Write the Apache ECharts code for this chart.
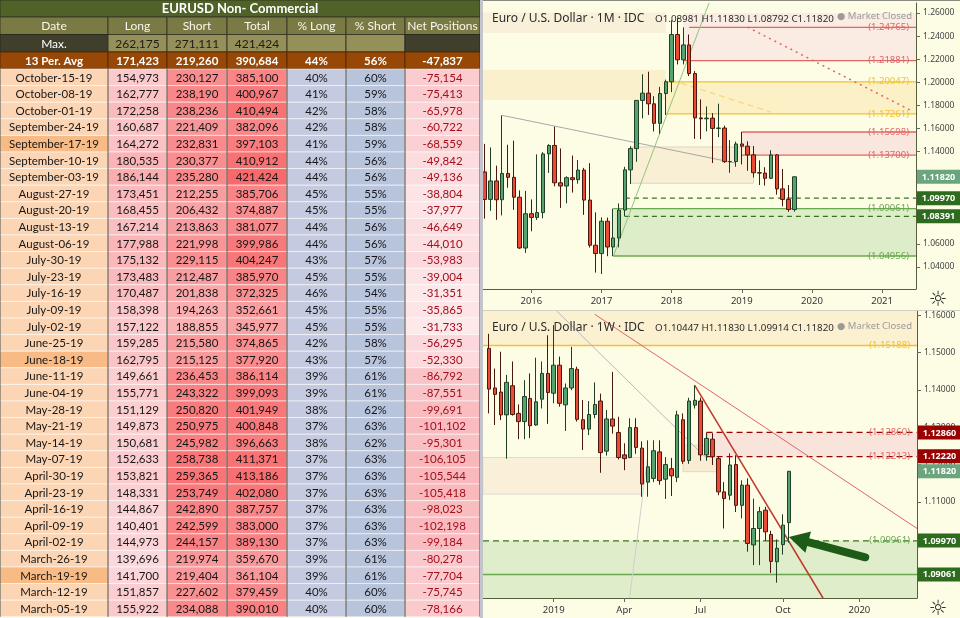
<!DOCTYPE html>
<html>
<head>
<meta charset="utf-8">
<script src="https://cdn.jsdelivr.net/npm/echarts@6.0.0/dist/echarts.min.js"></script>
<style>
html,body{margin:0;padding:0;background:#fdfde6;}
#chart{width:960px;height:618px;}
</style>
</head>
<body>
<div id="chart"></div>
<script>
// ================= TABLE DATA =================
const tableTitle = 'EURUSD Non- Commercial';
const tableHeaders = ['Date','Long','Short','Total','% Long','% Short','Net Positions'];
const maxLabel = 'Max.';
const maxValues = [262175, 271111, 421424];
const avgLabel = '13 Per. Avg';
const avgValues = [171423, 219260, 390684];
const avgPct = [44, 56];
const avgNet = -47837;
const reportDates = ['October-15-19','October-08-19','October-01-19','September-24-19','September-17-19','September-10-19','September-03-19','August-27-19','August-20-19','August-13-19','August-06-19','July-30-19','July-23-19','July-16-19','July-09-19','July-02-19','June-25-19','June-18-19','June-11-19','June-04-19','May-28-19','May-21-19','May-14-19','May-07-19','April-30-19','April-23-19','April-16-19','April-09-19','April-02-19','March-26-19','March-19-19','March-12-19','March-05-19'];
const longPos = [154973,162777,172258,160687,164272,180535,186144,173451,168455,167214,177988,175132,173483,170487,158398,157122,159285,162795,149661,155771,151129,149873,150681,152633,153821,148331,144867,140401,144973,139696,141700,151857,155922];
const shortPos = [230127,238190,238236,221409,232831,230377,235280,212255,206432,213863,221998,229115,212487,201838,194263,188855,215580,215125,236453,243322,250820,250975,245982,258738,259365,253749,242890,242599,244157,219974,219404,227602,234088];
const totalPos = [385100,400967,410494,382096,397103,410912,421424,385706,374887,381077,399986,404247,385970,372325,352661,345977,374865,377920,386114,399093,401949,400848,396663,411371,413186,402080,387757,383000,389130,359670,361104,379459,390010];
const pctLong = [40,41,42,42,41,44,44,45,45,44,44,43,45,46,45,45,42,43,39,39,38,37,38,37,37,37,37,37,37,39,39,40,40];
const pctShort = [60,59,58,58,59,56,56,55,55,56,56,57,55,54,55,55,58,57,61,61,62,63,62,63,63,63,63,63,63,61,61,60,60];
const netPos = [-75154,-75413,-65978,-60722,-68559,-49842,-49136,-38804,-37977,-46649,-44010,-53983,-39004,-31351,-35865,-31733,-56295,-52330,-86792,-87551,-99691,-101102,-95301,-106105,-105544,-105418,-98023,-102198,-99184,-80278,-77704,-75745,-78166];
const highlightedDates = ['September-17-19','June-18-19','March-19-19'];

// ================= MONTHLY CANDLES (O,H,L,C) =================
const monthlyDates = ['2015-05','2015-06','2015-07','2015-08','2015-09','2015-10','2015-11','2015-12',
'2016-01','2016-02','2016-03','2016-04','2016-05','2016-06','2016-07','2016-08','2016-09','2016-10','2016-11','2016-12',
'2017-01','2017-02','2017-03','2017-04','2017-05','2017-06','2017-07','2017-08','2017-09','2017-10','2017-11','2017-12',
'2018-01','2018-02','2018-03','2018-04','2018-05','2018-06','2018-07','2018-08','2018-09','2018-10','2018-11','2018-12',
'2019-01','2019-02','2019-03','2019-04','2019-05','2019-06','2019-07','2019-08','2019-09','2019-10'];
const monthlyOHLC = [
[1.1224,1.1467,1.0819,1.0986],[1.0986,1.1436,1.0887,1.1146],[1.1146,1.1278,1.0809,1.0983],[1.0983,1.1714,1.0847,1.1211],
[1.1211,1.1459,1.1087,1.1177],[1.1177,1.1495,1.0896,1.1005],[1.1005,1.1064,1.0557,1.0565],[1.0565,1.1060,1.0523,1.0862],
[1.0862,1.0986,1.0710,1.0830],[1.0830,1.1376,1.0808,1.0872],[1.0872,1.1396,1.0822,1.1380],[1.1380,1.1464,1.1215,1.1453],
[1.1453,1.1616,1.1099,1.1130],[1.1130,1.1427,1.0912,1.1102],[1.1102,1.1186,1.0952,1.1174],[1.1174,1.1366,1.1045,1.1157],
[1.1157,1.1327,1.1122,1.1240],[1.1240,1.1259,1.0852,1.0980],[1.0980,1.1300,1.0569,1.0589],[1.0589,1.0874,1.0352,1.0517],
[1.0517,1.0830,1.0340,1.0797],[1.0797,1.0829,1.0494,1.0574],[1.0574,1.0906,1.0495,1.0652],[1.0652,1.0951,1.0570,1.0894],
[1.0894,1.1268,1.0839,1.1242],[1.1242,1.1446,1.1119,1.1426],[1.1426,1.1847,1.1312,1.1843],[1.1843,1.2070,1.1688,1.1906],
[1.1906,1.2092,1.1717,1.1814],[1.1814,1.1880,1.1574,1.1645],[1.1645,1.1961,1.1554,1.1903],[1.1903,1.2023,1.1717,1.2005],
[1.2005,1.2537,1.1915,1.2414],[1.2414,1.2556,1.2155,1.2195],[1.2195,1.2476,1.2155,1.2324],[1.2324,1.2414,1.2054,1.2076],
[1.2076,1.2097,1.1510,1.1692],[1.1692,1.1852,1.1508,1.1684],[1.1684,1.1791,1.1575,1.1690],[1.1690,1.1733,1.1301,1.1601],
[1.1601,1.1815,1.1526,1.1604],[1.1604,1.1625,1.1302,1.1313],[1.1313,1.1500,1.1216,1.1314],[1.1314,1.1486,1.1269,1.1466],
[1.1466,1.1570,1.1289,1.1447],[1.1447,1.1489,1.1234,1.1372],[1.1372,1.1448,1.1176,1.1217],[1.1217,1.1324,1.1111,1.1214],
[1.1214,1.1265,1.1106,1.1169],[1.1169,1.1412,1.1162,1.1371],[1.1371,1.1378,1.1027,1.1077],[1.1077,1.1250,1.0926,1.0986],
[1.0986,1.1110,1.0879,1.0898],[1.08981,1.11830,1.08792,1.11820]];
const monthlyTickDates = ['2016-01','2017-01','2018-01','2019-01','2020-01','2021-01'];
const monthlyTickLabels = ['2016','2017','2018','2019','2020','2021'];
const monthlyPriceTicks = [1.04,1.06,1.08,1.10,1.12,1.14,1.16,1.18,1.20,1.22,1.24,1.26];

// ================= WEEKLY CANDLES (O,H,L,C) =================
const weeklyDates = ['2018-10-22','2018-10-29','2018-11-05','2018-11-12','2018-11-19','2018-11-26','2018-12-03','2018-12-10','2018-12-17','2018-12-24','2018-12-31',
'2019-01-07','2019-01-14','2019-01-21','2019-01-28','2019-02-04','2019-02-11','2019-02-18','2019-02-25','2019-03-04','2019-03-11','2019-03-18','2019-03-25',
'2019-04-01','2019-04-08','2019-04-15','2019-04-22','2019-04-29','2019-05-06','2019-05-13','2019-05-20','2019-05-27','2019-06-03','2019-06-10','2019-06-17','2019-06-24',
'2019-07-01','2019-07-08','2019-07-15','2019-07-22','2019-07-29','2019-08-05','2019-08-12','2019-08-19','2019-08-26','2019-09-02','2019-09-09','2019-09-16','2019-09-23','2019-09-30',
'2019-10-07','2019-10-14'];
const weeklyOHLC = [
[1.1511,1.1550,1.1337,1.1402],[1.1405,1.1457,1.1306,1.1388],[1.1394,1.1502,1.1319,1.1333],[1.1333,1.1440,1.1216,1.1420],
[1.1411,1.1476,1.1331,1.1334],[1.1337,1.1361,1.1268,1.1315],[1.1315,1.1426,1.1268,1.1382],[1.1377,1.1444,1.1271,1.1304],
[1.1306,1.1486,1.1304,1.1368],[1.1375,1.1476,1.1350,1.1444],[1.1444,1.1546,1.1309,1.1393],[1.1391,1.1573,1.1364,1.1466],
[1.1466,1.1489,1.1355,1.1364],[1.1360,1.1417,1.1290,1.1405],[1.1405,1.1515,1.1399,1.1457],[1.1455,1.1462,1.1315,1.1321],
[1.1320,1.1373,1.1239,1.1295],[1.1295,1.1370,1.1279,1.1334],[1.1334,1.1420,1.1324,1.1361],[1.1370,1.1390,1.1178,1.1232],
[1.1236,1.1346,1.1224,1.1322],[1.1322,1.1448,1.1283,1.1303],[1.1286,1.1328,1.1214,1.1219],[1.1226,1.1257,1.1185,1.1216],
[1.1219,1.1324,1.1217,1.1299],[1.1299,1.1324,1.1229,1.1246],[1.1244,1.1262,1.1114,1.1148],[1.1153,1.1265,1.1114,1.1194],
[1.1163,1.1265,1.1153,1.1237],[1.1234,1.1265,1.1146,1.1157],[1.1161,1.1220,1.1108,1.1200],[1.1189,1.1218,1.1116,1.1170],
[1.1166,1.1344,1.1153,1.1333],[1.1320,1.1337,1.1202,1.1209],[1.1211,1.1379,1.1202,1.1370],[1.1359,1.1412,1.1350,1.1372],
[1.1370,1.1379,1.1210,1.1226],[1.1226,1.1284,1.1210,1.1270],[1.1268,1.1284,1.1199,1.1221],[1.1216,1.1221,1.1118,1.1127],
[1.1127,1.1153,1.1029,1.1109],[1.1118,1.1230,1.1105,1.1199],[1.1200,1.1225,1.1073,1.1091],[1.1091,1.1158,1.1056,1.1145],
[1.1145,1.1163,1.0967,1.0989],[1.0985,1.1109,1.0931,1.1029],[1.1029,1.1087,1.0931,1.1074],[1.1078,1.1087,1.0996,1.1020],
[1.1013,1.1023,1.0910,1.0941],[1.0940,1.1000,1.0884,1.0976],[1.0986,1.1067,1.0959,1.1038],[1.10447,1.11830,1.09914,1.11820]];
const weeklyTickDates = ['2019-01-07','2019-04-01','2019-07-01','2019-10-07','2020-01-06'];
const weeklyTickLabels = ['2019','Apr','Jul','Oct','2020'];
const weeklyPriceTicks = [1.09,1.10,1.11,1.12,1.13,1.14,1.15,1.16];

// ================= DRAWN ANNOTATIONS (dates / price levels) =================
const monthlyZones = [[null,'2017-12',1.2605,1.2427],[null,'2017-12',1.2107,1.1847],['2018-03',null,1.2600,1.21881],
  ['2017-12',null,1.20047,1.17261],['2019-01',null,1.15698,1.13700],['2017-06','2019-03',1.1440,1.1126],['2017-03',null,1.09061,1.04956]];
const monthlyFibLevels = [1.24765,1.21881,1.20047,1.17261,1.15698,1.13700,1.09061,1.04956];
const monthlyFibFrom = ['2018-04','2018-03','2017-12','2017-12','2019-01','2019-01','2017-03','2017-03'];
const monthlyDashedLevels = [1.09970,1.08391];
const monthlyDashedFrom = '2017-05';
const monthlyTrends = [['2015-08',1.1714,'2018-12',1.1300],['2017-03',1.0490,'2018-08',1.2767],['2019-02',1.2477,'2021-06',1.1755],['2018-01',1.2020,'2019-06',1.1741]];
const monthlyTags = [1.09970,1.08391];

const weeklyZones = [[null,null,1.1611,1.15188],[null,'2019-04-22',1.1219,1.1121],['2019-06-10','2019-07-22',1.1252,1.1181],
  ['2019-07-08',null,1.12860,1.12213],[null,null,1.09961,1.0843]];
const weeklyFibLevels = [1.15188,1.12860,1.12213,1.09961];
const weeklyFibFrom = [null,'2019-07-08','2019-07-08',null];
const weeklySupport = 1.09061;
const weeklyTrends = [['2019-02-25',1.1602,'2020-03-16',1.1027],['2019-06-24',1.1412,'2019-12-02',1.0812],['2019-01-07',1.1619,'2019-07-08',1.1217],['2019-04-01',1.0733,'2019-04-29',1.1223],['2019-07-08',1.12860,'2019-07-08',1.12213]];
const weeklyTags = [1.12860,1.12220,1.09970,1.09061];
const weeklyArrow = ['2020-01-13',1.0952,'2019-10-14',1.1006];

// ================= HELPERS =================
const tableFont = "Lato, 'Noto Sans', sans-serif";
const chartFont = "'Noto Sans', 'DejaVu Sans', sans-serif";
const fmt = n => n.toLocaleString('en-US');
function hex2rgb(h){ return [1,3,5].map(i=>parseInt(h.substr(i,2),16)); }
function mix(a,b,t){ t=Math.max(0,Math.min(1,t)); const A=hex2rgb(a),B=hex2rgb(b); return 'rgb('+A.map((v,i)=>Math.round(v+(B[i]-v)*t)).join(',')+')'; }
function monthIdx(s){ const p=s.split('-').map(Number); return (p[0]-2016)*12+(p[1]-1); }
function weekIdx(s){ const p=s.split('-').map(Number); return (Date.UTC(p[0],p[1]-1,p[2])-Date.UTC(2019,0,7))/(7*86400000); }

// layout
const colEdges = [0,108,167,227,287,346,405,480];
const rowEdges = [0,17,34.5,52,69];
for (let i=1;i<=reportDates.length;i++) rowEdges.push(69+i*16.6);
const MX=[-8.27,65.8], MY=[1.021,1.2687];
const WX=[-12.03,61.8], WY=[1.0843,1.1611];

// ================= TABLE CELLS =================
const cells = [];
function addCell(c0,c1,r,text,bg,fg,opt){ opt=opt||{}; cells.push({c0,c1,r,text,bg,fg,bold:!!opt.bold,size:opt.size||11.5,stroke:opt.stroke||'rgba(255,255,255,0.55)'}); }
addCell(0,7,0,tableTitle,'#4f6228','#ffffff',{bold:true,size:13,stroke:'#2e3a18'});
tableHeaders.forEach((h,i)=>addCell(i,i+1,1,h,'#7a7a44','#f7f7ef',{size:12,stroke:'#3a3a28'}));
addCell(0,1,2,maxLabel,'#3f3f2b','#ffffff',{size:12,stroke:'#2a2a1e'});
maxValues.forEach((v,i)=>addCell(i+1,i+2,2,fmt(v),'#958f5a','#1d1d12',{size:12,stroke:'#3a3a28'}));
addCell(4,5,2,'','#958f5a','#000',{stroke:'#3a3a28'});
addCell(5,6,2,'','#958f5a','#000',{stroke:'#3a3a28'});
addCell(6,7,2,'','#3f3f2b','#000',{stroke:'#2a2a1e'});
[avgLabel].concat(avgValues.map(fmt),[avgPct[0]+'%',avgPct[1]+'%',fmt(avgNet)]).forEach((t,i)=>addCell(i,i+1,3,t,'#974806','#ffffff',{bold:true,size:11.5,stroke:'#5a2a02'}));
reportDates.forEach((d,k)=>{
  const r=4+k;
  addCell(0,1,r,d,highlightedDates.indexOf(d)>=0?'#f8bb86':'#fcd5b4','#161616');
  addCell(1,2,r,fmt(longPos[k]),mix('#fcfcff','#f8696b',(longPos[k]-100000)/(262175-100000)),'#161616');
  addCell(2,3,r,fmt(shortPos[k]),mix('#fcfcff','#f8696b',(shortPos[k]-107000)/(271111-107000)),'#161616');
  addCell(3,4,r,fmt(totalPos[k]),mix('#fcfcff','#f8696b',(totalPos[k]-230000)/(421424-230000)),'#161616');
  addCell(4,5,r,pctLong[k]+'%','#c4cadf','#161616');
  addCell(5,6,r,pctShort[k]+'%','#b8c3dc','#161616');
  addCell(6,7,r,fmt(netPos[k]),mix('#fde9eb','#f8b5b9',(-netPos[k]-30000)/80000),'#a30f1c');
});

// ================= OVERLAY ITEMS =================
function clipSeg(x0,y0,x1,y1,xr,yr){
  let t0=0,t1=1; const dx=x1-x0, dy=y1-y0;
  const p=[-dx,dx,-dy,dy], q=[x0-xr[0],xr[1]-x0,y0-yr[0],yr[1]-y0];
  for(let i=0;i<4;i++){
    if(p[i]===0){ if(q[i]<0) return null; }
    else { const r=q[i]/p[i]; if(p[i]<0){ if(r>t1) return null; if(r>t0) t0=r; } else { if(r<t0) return null; if(r<t1) t1=r; } }
  }
  return [x0+t0*dx,y0+t0*dy,x0+t1*dx,y0+t1*dy];
}
function zoneItem(xr,yr,x0,x1,y0,y1,fill,stroke){ return {kind:'zone',xr,yr,x0:x0==null?xr[0]:x0,x1:x1==null?xr[1]:x1,y0,y1,fill,stroke}; }
function segItem(xr,yr,x0,y0,x1,y1,stroke,width,dash){ return {kind:'line',xr,yr,x0,y0,x1,y1,stroke,width,dash}; }
function hItem(xr,yr,x0,y,stroke,width,dash){ return segItem(xr,yr,x0==null?xr[0]:x0,y,xr[1],y,stroke,width,dash); }

const RED='#e06666', GOLD='#f1c232', GREEN='#6aa84f', DKGREEN='#38761d', DKRED='#990000';

// monthly
const mZoneFills = ['#f8f0d8','#fbf0cc','#faece2','#fcf0c6','#f9e7de','#f8efd4','#deedc9'];
const mZoneStroke = [null,null,null,null,null,'#ddd6c0',null];
const mFibColors = [RED,RED,GOLD,GOLD,RED,RED,GREEN,GREEN];
const mTrendStyle = [['#a8a8a8',1,null],['#93c47d',1,null],[RED,1.5,[2,4]],['#f6d77a',1.2,[6,4]]];
const mZonesItems = monthlyZones.map((z,i)=>zoneItem(MX,MY,z[0]?monthIdx(z[0]):null,z[1]?monthIdx(z[1]):null,z[2],z[3],mZoneFills[i],mZoneStroke[i]));
const mLineItems = [];
monthlyFibLevels.forEach((v,i)=>mLineItems.push(hItem(MX,MY,monthIdx(monthlyFibFrom[i]),v,mFibColors[i],1.3,null)));
monthlyDashedLevels.forEach(v=>mLineItems.push(hItem(MX,MY,monthIdx(monthlyDashedFrom),v,DKGREEN,1.3,[5,4])));
monthlyTrends.forEach((t,i)=>mLineItems.push(segItem(MX,MY,monthIdx(t[0]),t[1],monthIdx(t[2]),t[3],mTrendStyle[i][0],mTrendStyle[i][1],mTrendStyle[i][2])));
const mTopItems = [];
monthlyFibLevels.forEach((v,i)=>mTopItems.push({kind:'label',xr:MX,yr:MY,y:v,text:'('+v.toFixed(5)+')',color:mFibColors[i]}));
const lastM = monthlyOHLC[monthlyOHLC.length-1];
mTopItems.push({kind:'tag',xr:MX,yr:MY,y:lastM[3],text:lastM[3].toFixed(5),bg:'#6aa57e'});
monthlyTags.forEach(v=>mTopItems.push({kind:'tag',xr:MX,yr:MY,y:v,text:v.toFixed(5),bg:'#2f6b1e'}));

// weekly
const wZoneFills = ['#fbf0d0','#faf0da','#f8ecd2','#f9e4dc','#dfedca'];
const wZoneStroke = [null,'#dcdcd4','#e2d8c0',null,null];
const wFibColors = [GOLD,DKRED,DKRED,DKGREEN];
const wFibStyle = [[1.5,null],[1.3,[6,4]],[1.3,[6,4]],[1.3,[6,4]]];
const wFibTextColors = [GOLD,RED,RED,GREEN];
const wTrendStyle = [[RED,1,null],['#c0392b',1.5,null],['#b8b8b8',1,null],['#cfcfcf',1,null],[DKRED,1.2,null]];
const wZonesItems = weeklyZones.map((z,i)=>zoneItem(WX,WY,z[0]?weekIdx(z[0]):null,z[1]?weekIdx(z[1]):null,z[2],z[3],wZoneFills[i],wZoneStroke[i]));
const wLineItems = [];
weeklyFibLevels.forEach((v,i)=>wLineItems.push(hItem(WX,WY,weeklyFibFrom[i]?weekIdx(weeklyFibFrom[i]):null,v,wFibColors[i],wFibStyle[i][0],wFibStyle[i][1])));
wLineItems.push(hItem(WX,WY,null,weeklySupport,GREEN,1.5,null));
weeklyTrends.forEach((t,i)=>wLineItems.push(segItem(WX,WY,weekIdx(t[0]),t[1],weekIdx(t[2]),t[3],wTrendStyle[i][0],wTrendStyle[i][1],wTrendStyle[i][2])));
const wTopItems = [];
weeklyFibLevels.forEach((v,i)=>wTopItems.push({kind:'label',xr:WX,yr:WY,y:v,text:'('+v.toFixed(5)+')',color:wFibTextColors[i]}));
const lastW = weeklyOHLC[weeklyOHLC.length-1];
const wTagBg = ['#990000','#990000','#2f6b1e','#2f6b1e'];
weeklyTags.forEach((v,i)=>wTopItems.push({kind:'tag',xr:WX,yr:WY,y:v,text:v.toFixed(5),bg:wTagBg[i]}));
wTopItems.push({kind:'tag',xr:WX,yr:WY,y:lastW[3],text:lastW[3].toFixed(5),bg:'#6aa57e'});
wTopItems.push({kind:'arrow',xr:WX,yr:WY,x0:weekIdx(weeklyArrow[0]),y0:weeklyArrow[1],x1:weekIdx(weeklyArrow[2]),y1:weeklyArrow[3]});

function drawOverlay(it, api){
  const P=(x,y)=>api.coord([x,y]);
  if(it.kind==='zone'){
    const x0=Math.max(it.x0,it.xr[0]), x1=Math.min(it.x1,it.xr[1]);
    const y0=Math.min(it.y0,it.yr[1]), y1=Math.max(it.y1,it.yr[0]);
    const a=P(x0,y0), b=P(x1,y1);
    return {type:'rect',shape:{x:a[0],y:a[1],width:b[0]-a[0],height:b[1]-a[1]},style:{fill:it.fill,stroke:it.stroke||'none',lineWidth:1}};
  }
  if(it.kind==='line'){
    const c=clipSeg(it.x0,it.y0,it.x1,it.y1,it.xr,it.yr);
    if(!c) return {type:'group',children:[]};
    const a=P(c[0],c[1]), b=P(c[2],c[3]);
    return {type:'line',shape:{x1:a[0],y1:a[1],x2:b[0],y2:b[1]},style:{stroke:it.stroke,lineWidth:it.width,lineDash:it.dash||null}};
  }
  if(it.kind==='label'){
    const a=P(it.xr[1],it.y);
    return {type:'text',x:a[0]-7,y:a[1],style:{text:it.text,align:'right',verticalAlign:'middle',fill:it.color,fontSize:9.5,fontFamily:chartFont}};
  }
  if(it.kind==='tag'){
    const a=P(it.xr[1],it.y);
    return {type:'group',children:[
      {type:'rect',shape:{x:a[0]+1,y:a[1]-7,width:43,height:14},style:{fill:it.bg}},
      {type:'text',x:a[0]+22.5,y:a[1]+0.5,style:{text:it.text,align:'center',verticalAlign:'middle',fill:'#ffffff',fontSize:9,fontWeight:'bold',fontFamily:chartFont}}
    ]};
  }
  if(it.kind==='arrow'){
    const a=P(it.x0,it.y0), b=P(it.x1,it.y1);
    const dx=b[0]-a[0], dy=b[1]-a[1], L=Math.hypot(dx,dy), ux=dx/L, uy=dy/L;
    const bx=b[0]-ux*20, by=b[1]-uy*20, px=-uy, py=ux;
    return {type:'group',children:[
      {type:'line',shape:{x1:a[0],y1:a[1],x2:bx,y2:by},style:{stroke:'#1e5b16',lineWidth:8,lineCap:'round'}},
      {type:'polygon',shape:{points:[[b[0],b[1]],[bx+px*11,by+py*11],[bx-px*11,by-py*11]]},style:{fill:'#1e5b16'}}
    ]};
  }
  return {type:'group',children:[]};
}
function overlay(items, ai, z){
  return {type:'custom',xAxisIndex:ai,yAxisIndex:ai,z:z,silent:true,clip:false,
    data:items.map(it=>[it.xr[0],it.yr[0]]),
    renderItem:(params,api)=>drawOverlay(items[params.dataIndex],api)};
}

const monthlyTickX = monthlyTickDates.map(monthIdx);
const weeklyTickX = weeklyTickDates.map(weekIdx);
function tickFmt(xs, labels){ return v=>{ const i=xs.findIndex(t=>Math.abs(t-v)<1e-6); return i>=0?labels[i]:''; }; }

const axisColor = '#55603a';
function xAxisFor(gi, range, ticks, labels){
  return {gridIndex:gi,type:'value',min:range[0],max:range[1],
    axisLine:{show:true,onZero:false,lineStyle:{color:axisColor,width:1}},
    axisTick:{show:true,customValues:ticks,length:4,lineStyle:{color:'#666'}},
    axisLabel:{customValues:ticks,formatter:tickFmt(ticks,labels),color:'#333',fontSize:9.5,margin:7,fontFamily:chartFont},
    splitLine:{show:false}};
}
function yAxisFor(gi, range, ticks){
  return {gridIndex:gi,type:'value',position:'right',min:range[0],max:range[1],
    axisLine:{show:true,onZero:false,lineStyle:{color:axisColor,width:1}},
    axisTick:{show:true,customValues:ticks,length:4,lineStyle:{color:'#666'}},
    axisLabel:{customValues:ticks,formatter:v=>v.toFixed(5),color:'#444',fontSize:8.5,margin:7,fontFamily:chartFont},
    splitLine:{show:false}};
}
const candleStyle = {color:'#55a46f',color0:'#ec4b33',borderColor:'#213f26',borderColor0:'#4b1810',borderWidth:1};
const ohlcText = c => 'O'+c[0].toFixed(5)+' H'+c[1].toFixed(5)+' L'+c[2].toFixed(5)+' C'+c[3].toFixed(5);

const option = {
  animation:false,
  backgroundColor:'#fdfde6',
  grid:[
    {left:0,top:0,width:480,height:618},
    {left:483,top:3,width:433,height:286},
    {left:483,top:311,width:434,height:287}
  ],
  xAxis:[
    {gridIndex:0,type:'value',min:0,max:480,show:false},
    xAxisFor(1,MX,monthlyTickX,monthlyTickLabels),
    xAxisFor(2,WX,weeklyTickX,weeklyTickLabels)
  ],
  yAxis:[
    {gridIndex:0,type:'value',min:0,max:618,inverse:true,show:false},
    yAxisFor(1,MY,monthlyPriceTicks),
    yAxisFor(2,WY,weeklyPriceTicks)
  ],
  series:[
    {type:'custom',xAxisIndex:0,yAxisIndex:0,z:2,silent:true,clip:false,
      data:cells.map(c=>[colEdges[c.c0],rowEdges[c.r]]),
      renderItem:(params,api)=>{
        const c=cells[params.dataIndex];
        const a=api.coord([colEdges[c.c0],rowEdges[c.r]]), b=api.coord([colEdges[c.c1],rowEdges[c.r+1]]);
        const w=b[0]-a[0], h=b[1]-a[1];
        return {type:'group',children:[
          {type:'rect',shape:{x:a[0],y:a[1],width:w,height:h},style:{fill:c.bg,stroke:c.stroke,lineWidth:1}},
          {type:'text',x:a[0]+w/2,y:a[1]+h/2+0.5,style:{text:c.text,align:'center',verticalAlign:'middle',fill:c.fg,fontSize:c.size,fontWeight:c.bold?'bold':'normal',fontFamily:tableFont}}
        ]};
      }},
    {type:'custom',xAxisIndex:0,yAxisIndex:0,z:3,silent:true,clip:false,
      data:colEdges.map(x=>[x,0]),
      renderItem:(params,api)=>{
        const x=colEdges[params.dataIndex];
        const a=api.coord([x,rowEdges[4]]), b=api.coord([x,rowEdges[rowEdges.length-1]]);
        return {type:'line',shape:{x1:a[0],y1:a[1],x2:b[0],y2:b[1]},style:{stroke:'#4a4a3a',lineWidth:1}};
      }},
    overlay(mZonesItems,1,1),
    overlay(mLineItems,1,2),
    {type:'candlestick',xAxisIndex:1,yAxisIndex:1,z:3,silent:true,barWidth:4,
      encode:{x:0,y:[1,2,3,4]},
      data:monthlyDates.map((d,i)=>[monthIdx(d),monthlyOHLC[i][0],monthlyOHLC[i][3],monthlyOHLC[i][2],monthlyOHLC[i][1]]),
      itemStyle:candleStyle},
    overlay(mTopItems,1,5),
    overlay(wZonesItems,2,1),
    overlay(wLineItems,2,2),
    {type:'candlestick',xAxisIndex:2,yAxisIndex:2,z:3,silent:true,barWidth:4,
      encode:{x:0,y:[1,2,3,4]},
      data:weeklyDates.map((d,i)=>[weekIdx(d),weeklyOHLC[i][0],weeklyOHLC[i][3],weeklyOHLC[i][2],weeklyOHLC[i][1]]),
      itemStyle:candleStyle},
    overlay(wTopItems,2,6)
  ],
  graphic:[
    {type:'rect',z:20,shape:{x:480,y:0,width:3,height:618},style:{fill:'#c4c5cc'}},
    {type:'line',z:20,shape:{x1:483,y1:310.5,x2:960,y2:310.5},style:{stroke:'#cfcfc2',lineWidth:1}},
    {type:'line',z:20,shape:{x1:483,y1:0.5,x2:960,y2:0.5},style:{stroke:'#8a8a80',lineWidth:1}},
    {type:'text',z:20,x:492,y:19,style:{text:'Euro / U.S. Dollar · 1M · IDC',fill:'#2b2b2b',fontSize:12,fontFamily:chartFont,verticalAlign:'middle'}},
    {type:'text',z:20,x:655,y:19,style:{text:ohlcText(lastM),fill:'#2b2b2b',fontSize:9.8,fontFamily:chartFont,verticalAlign:'middle'}},
    {type:'text',z:20,x:912,y:16,style:{text:'● Market Closed',fill:'#9a9a9a',fontSize:9.5,fontFamily:chartFont,align:'right',verticalAlign:'middle'}},
    {type:'text',z:20,x:492,y:328,style:{text:'Euro / U.S. Dollar · 1W · IDC',fill:'#2b2b2b',fontSize:12,fontFamily:chartFont,verticalAlign:'middle'}},
    {type:'text',z:20,x:655,y:328,style:{text:ohlcText(lastW),fill:'#2b2b2b',fontSize:9.8,fontFamily:chartFont,verticalAlign:'middle'}},
    {type:'text',z:20,x:912,y:326,style:{text:'● Market Closed',fill:'#9a9a9a',fontSize:9.5,fontFamily:chartFont,align:'right',verticalAlign:'middle'}},
    {type:'text',z:20,x:938,y:301,style:{text:'☼',fill:'#333',fontSize:21,fontFamily:'DejaVu Sans',align:'center',verticalAlign:'middle'}},
    {type:'text',z:20,x:938,y:610,style:{text:'☼',fill:'#333',fontSize:21,fontFamily:'DejaVu Sans',align:'center',verticalAlign:'middle'}}
  ]
};
const chart = echarts.init(document.getElementById('chart'), null, {width:960,height:618});
chart.setOption(option);
</script>
</body>
</html>
